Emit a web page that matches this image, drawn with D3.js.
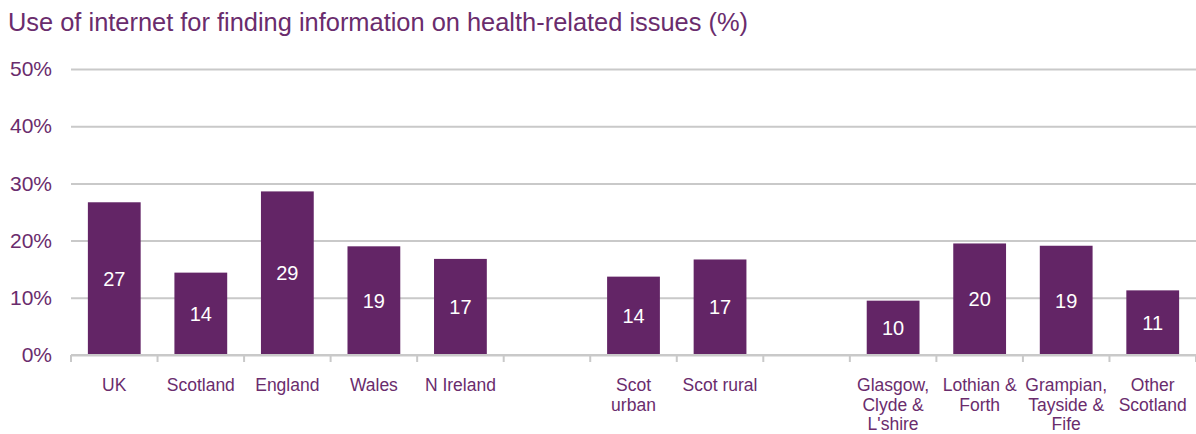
<!DOCTYPE html>
<html>
<head>
<meta charset="utf-8">
<script src="https://cdn.jsdelivr.net/npm/d3@7/dist/d3.min.js"></script>
<style>
  html, body { margin: 0; padding: 0; background: #fff; }
  svg { display: block; font-family: "Liberation Sans", Arial, sans-serif; }
</style>
</head>
<body>
<svg id="chart" width="1196" height="434"></svg>
<script>
// Share of people using the internet to find health information, by area (%)
const categories = [
  "UK", "Scotland", "England", "Wales", "N Ireland", "",
  "Scot urban", "Scot rural", " ",
  "Glasgow, Clyde & L'shire", "Lothian & Forth", "Grampian, Tayside & Fife", "Other Scotland"
];
// Multi-line category captions, as shown under the axis
const categoryLines = [
  ["UK"], ["Scotland"], ["England"], ["Wales"], ["N Ireland"], [],
  ["Scot", "urban"], ["Scot rural"], [],
  ["Glasgow,", "Clyde &", "L'shire"], ["Lothian &", "Forth"], ["Grampian,", "Tayside &", "Fife"], ["Other", "Scotland"]
];
const values = [26.7, 14.4, 28.6, 19.0, 16.8, null, 13.7, 16.7, null, 9.5, 19.5, 19.1, 11.3];
const yTicks = [0, 10, 20, 30, 40, 50];
const title = "Use of internet for finding information on health-related issues (%)";

const purple = "#632566";
const textPurple = "#6a2c6d";
const grid = "#c9c9c9";

const svg = d3.select("#chart");
const margin = { top: 69, right: 0, bottom: 79, left: 71 };
const W = 1196, H = 434;
const iw = W - margin.left - margin.right;
const ih = H - margin.top - margin.bottom;

svg.append("text")
  .attr("x", 8).attr("y", 31)
  .attr("fill", textPurple)
  .attr("font-size", 25)
  .attr("textLength", 740)
  .attr("lengthAdjust", "spacingAndGlyphs")
  .text(title);

const g = svg.append("g").attr("transform", `translate(${margin.left},${margin.top})`);

const x = d3.scaleBand().domain(categories).range([0, iw])
  .paddingInner(0.39).paddingOuter(0.195);
const y = d3.scaleLinear().domain([0, 50]).range([ih, 0]);

// Y axis with full-width gridlines
const yAxis = g.append("g")
  .call(d3.axisLeft(y).tickValues(yTicks).tickSize(-iw).tickPadding(19).tickFormat(d => d + "%"));
yAxis.select(".domain").remove();
yAxis.selectAll(".tick line").attr("stroke", grid).attr("stroke-width", 2);
yAxis.selectAll(".tick text")
  .attr("fill", textPurple)
  .attr("font-size", 21)
  .attr("font-family", "Liberation Sans, Arial, sans-serif");

// Bars
const data = categories.map((c, i) => ({ c, v: values[i], lines: categoryLines[i] }));
g.selectAll("rect.bar")
  .data(data.filter(d => d.v != null))
  .join("rect")
  .attr("class", "bar")
  .attr("x", d => x(d.c))
  .attr("width", x.bandwidth())
  .attr("y", d => y(d.v))
  .attr("height", d => y(0) - y(d.v))
  .attr("fill", purple);

// Value labels in the middle of each bar
g.selectAll("text.val")
  .data(data.filter(d => d.v != null))
  .join("text")
  .attr("class", "val")
  .attr("x", d => x(d.c) + x.bandwidth() / 2)
  .attr("y", d => (y(d.v) + y(0)) / 2)
  .attr("dy", "0.36em")
  .attr("text-anchor", "middle")
  .attr("fill", "#fff")
  .attr("font-size", 20)
  .text(d => d3.format(".0f")(d.v));

// X axis line with ticks on category boundaries
g.append("line")
  .attr("x1", 0).attr("x2", iw)
  .attr("y1", y(0)).attr("y2", y(0))
  .attr("stroke", grid).attr("stroke-width", 2);
const bounds = d3.range(categories.length + 1).map(i => i * x.step());
g.selectAll("line.xtick")
  .data(bounds)
  .join("line")
  .attr("class", "xtick")
  .attr("x1", d => d).attr("x2", d => d)
  .attr("y1", y(0)).attr("y2", y(0) + 7)
  .attr("stroke", grid).attr("stroke-width", 2);

// Category captions
const labels = g.selectAll("text.cat")
  .data(data)
  .join("text")
  .attr("class", "cat")
  .attr("text-anchor", "middle")
  .attr("fill", textPurple)
  .attr("font-size", 17.5)
  .attr("x", d => x(d.c) + x.bandwidth() / 2)
  .attr("y", y(0) + 36);
labels.selectAll("tspan")
  .data(d => d.lines.map(l => ({ l, cx: x(d.c) + x.bandwidth() / 2 })))
  .join("tspan")
  .attr("x", d => d.cx)
  .attr("dy", (d, i) => i === 0 ? 0 : 19.5)
  .text(d => d.l);
</script>
</body>
</html>
